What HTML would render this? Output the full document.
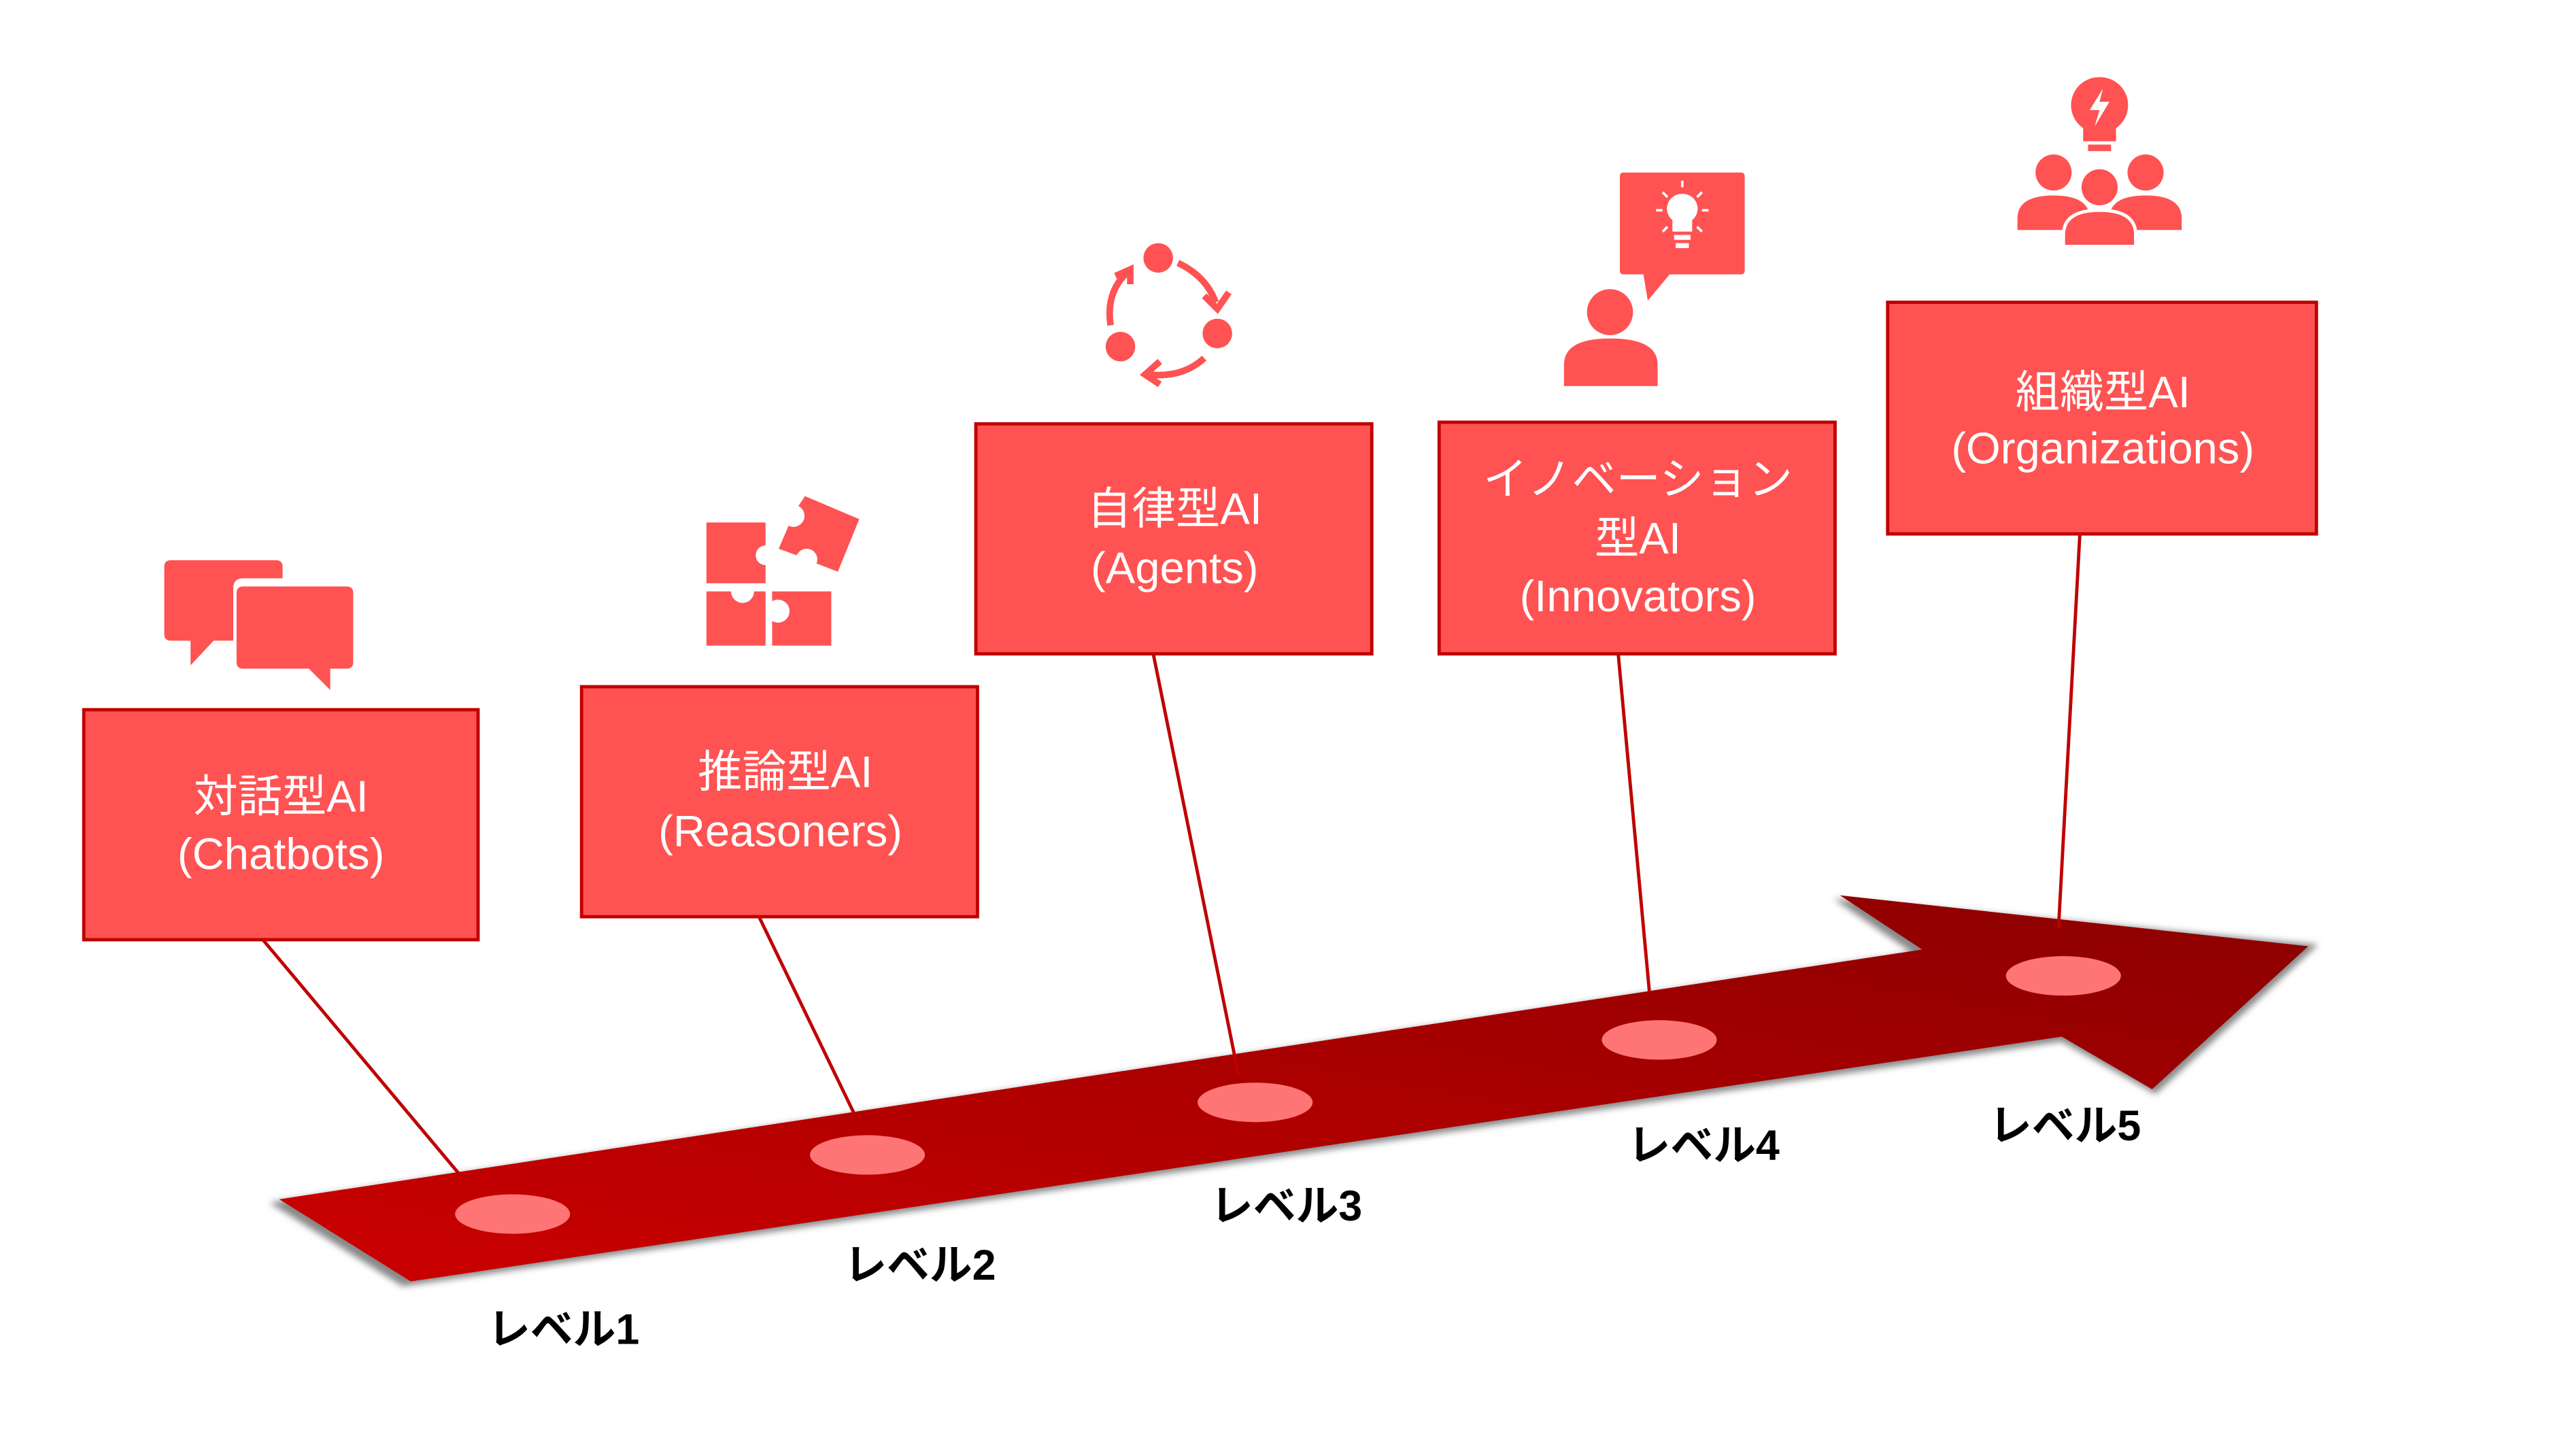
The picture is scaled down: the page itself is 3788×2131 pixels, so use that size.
<!DOCTYPE html>
<html><head><meta charset="utf-8"><style>
html,body{margin:0;padding:0;background:#fff;}
svg{display:block;}
text{font-family:"Liberation Sans","Noto Sans CJK JP",sans-serif;}
</style></head><body>
<svg width="3788" height="2131" viewBox="0 0 1568 882" preserveAspectRatio="none" xmlns="http://www.w3.org/2000/svg">
<defs>
<linearGradient id="g" x1="0" y1="1" x2="1" y2="0">
<stop offset="0" stop-color="#cc0000"/><stop offset="1" stop-color="#8a0000"/>
</linearGradient>
<filter id="sh" x="-5%" y="-5%" width="110%" height="110%"><feGaussianBlur stdDeviation="2"/></filter>
</defs>
<polygon points="164,732 1164,580 1116,547 1411,575 1312,666 1255,634 245,783" fill="#888" filter="url(#sh)"/>
<polygon points="170,730 1170,578 1120,545 1405,576 1310,663 1255,631 250,780" fill="url(#g)"/>
<g stroke="#c00000" stroke-width="2">
<line x1="160" y1="572" x2="279" y2="714"/>
<line x1="462" y1="558" x2="520" y2="678"/>
<line x1="702" y1="398" x2="754" y2="655"/>
<line x1="985" y1="398" x2="1004" y2="604"/>
<line x1="1266" y1="325" x2="1253" y2="565"/>
</g>
<g fill="#ff7575">
<ellipse cx="312" cy="739" rx="35" ry="12"/>
<ellipse cx="528" cy="703" rx="35" ry="12"/>
<ellipse cx="764" cy="671" rx="35" ry="12"/>
<ellipse cx="1010" cy="633" rx="35" ry="12"/>
<ellipse cx="1256" cy="594" rx="35" ry="12"/>
</g>
<g fill="#ff5252" stroke="#c00000" stroke-width="2">
<rect x="51" y="432" width="240" height="140"/>
<rect x="354" y="418" width="241" height="140"/>
<rect x="594" y="258" width="241" height="140"/>
<rect x="876" y="257" width="241" height="141"/>
<rect x="1149" y="184" width="261" height="141"/>
</g>
<g fill="#fff" font-size="27" text-anchor="middle">
<text x="171" y="494">対話型AI</text><text x="171" y="529">(Chatbots)</text>
<text x="478" y="479">推論型AI</text><text x="475" y="515">(Reasoners)</text>
<text x="715" y="319">自律型AI</text><text x="715" y="355">(Agents)</text>
<text x="997" y="301">イノベーション</text><text x="997" y="337">型AI</text><text x="997" y="372">(Innovators)</text>
<text x="1280" y="248">組織型AI</text><text x="1280" y="282">(Organizations)</text>
</g>
<g fill="#000" font-size="26" font-weight="bold" text-anchor="middle">
<text x="343" y="818">レベル1</text>
<text x="560" y="779">レベル2</text>
<text x="783" y="743">レベル3</text>
<text x="1037" y="706">レベル4</text>
<text x="1257" y="694">レベル5</text>
</g>
<g fill="#ff5252">
<path d="M104,341 H168 Q172,341 172,345 V352 H148 Q142,352 142,358 V390 H130 L116,405 V390 H104 Q100,390 100,386 V345 Q100,341 104,341Z"/>
<path d="M148,357 H211 Q215,357 215,361 V403 Q215,407 211,407 H201 V420 L188,407 H148 Q144,407 144,403 V361 Q144,357 148,357Z"/>
<path d="M430,318 H466 V332 A6,6 0 1 0 466,344 V355 H430Z"/>
<path d="M430,360 H445 A7,7 0 1 0 459,360 H466 V393 H430Z"/>
<path d="M470,360 H506 V393 H470 V378 A7,7 0 1 0 470,366Z"/>
<path d="M490,302 L523,316 L510,348 L497,343 A6,6 0 1 0 485,338 L474,334 L480,320 A6,6 0 1 0 486,308Z"/>
<circle cx="705" cy="157" r="9"/><circle cx="741" cy="203" r="9"/><circle cx="682" cy="211" r="9"/>
</g>
<g fill="none" stroke="#ff5252" stroke-width="4">
<path d="M717,160 Q734,168 740,184"/><path d="M733,180 L741,188 L748,178"/>
<path d="M733,218 Q720,230 700,228"/><path d="M706,220 L697,228 L706,234"/>
<path d="M676,198 Q673,178 686,166"/><path d="M679,168 L688,164 L688,173"/>
</g>
<g fill="#ff5252">
<rect x="986" y="105" width="76" height="62" rx="2"/>
<polygon points="1000,165 1018,165 1003,183"/>
<circle cx="980" cy="190" r="14"/>
<path d="M952,235 V222 Q952,206 980,206 Q1009,206 1009,222 V235Z"/>
<path d="M1278,47 A17,17 0 0 1 1288,78 V86 H1268 V78 A17,17 0 0 1 1278,47Z"/>
<rect x="1271" y="88" width="14" height="4"/>
<circle cx="1250" cy="105" r="11"/><circle cx="1306" cy="105" r="11"/><circle cx="1278" cy="114" r="11"/>
<path d="M1228,140 V133 Q1228,119 1250,119 Q1272,119 1272,133 V140Z"/>
<path d="M1284,140 V133 Q1284,119 1306,119 Q1328,119 1328,133 V140Z"/>
<path d="M1256,150 V143 Q1256,128 1278,128 Q1300,128 1300,143 V150Z" stroke="#fff" stroke-width="2"/>
</g>
<g fill="#fff">
<path d="M1024,118 A9,9 0 0 1 1030,134 V141 H1018 V134 A9,9 0 0 1 1024,118Z"/>
<rect x="1019" y="143" width="10" height="3"/><rect x="1020" y="148" width="8" height="3"/>
<polygon points="1280,54 1272,67 1278,67 1275,77 1284,62 1278,62"/>
</g>
<g stroke="#fff" stroke-width="1.5">
<line x1="1024" y1="110" x2="1024" y2="114"/><line x1="1008" y1="128" x2="1012" y2="128"/><line x1="1036" y1="128" x2="1040" y2="128"/>
<line x1="1012" y1="117" x2="1015" y2="120"/><line x1="1036" y1="117" x2="1033" y2="120"/>
<line x1="1012" y1="141" x2="1015" y2="138"/><line x1="1036" y1="141" x2="1033" y2="138"/>
</g>
</svg>
</body></html>
